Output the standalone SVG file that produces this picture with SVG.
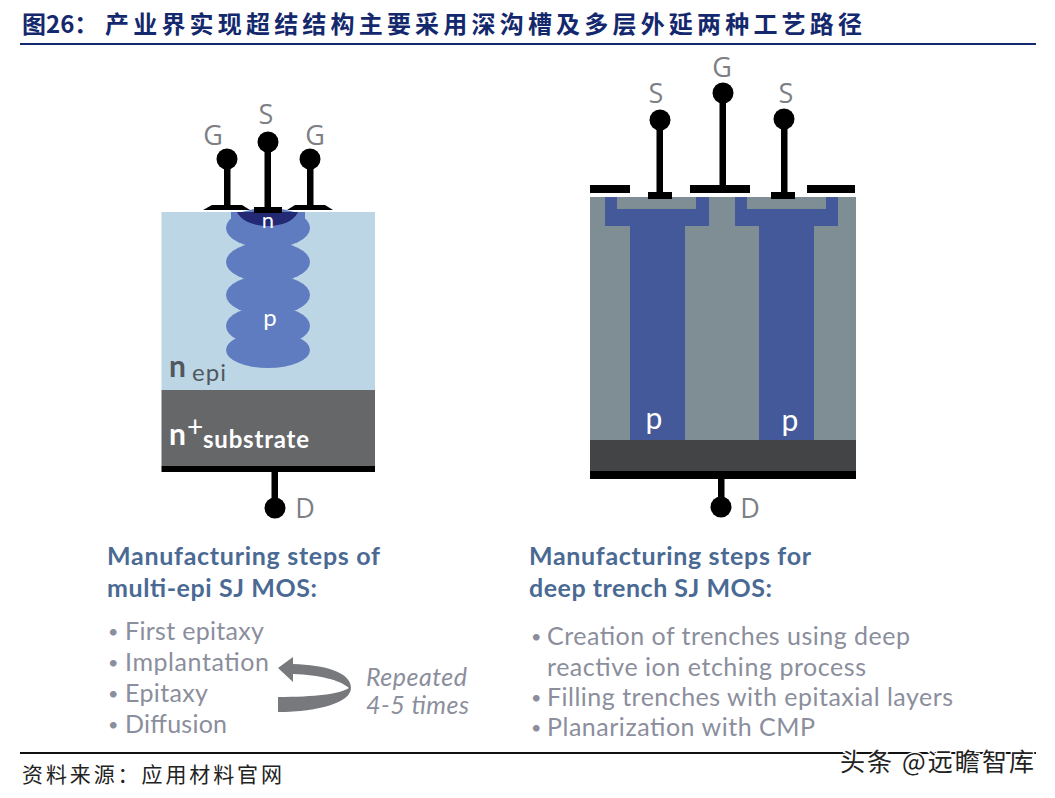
<svg xmlns="http://www.w3.org/2000/svg" width="1055" height="798" viewBox="0 0 1055 798">
<style>
.t{font-family:"Open Sans","Noto Sans",sans-serif;fill:#7d7f84;font-size:27px}
.l{font-family:"Lato","Open Sans",sans-serif;fill:#8b8e9c;font-size:25px}
.b{font-family:"Lato","Open Sans",sans-serif;fill:#8b8e9c;font-size:18px}
.h{font-family:"Lato","Open Sans",sans-serif;fill:#4a6a94;font-size:25px;font-weight:700}
.w{font-family:"Lato","Open Sans",sans-serif;fill:#fff}
.k{fill:#000;stroke:none}
.blue{fill:#43599a}
.gray{fill:#7f8e95}
.lobe{fill:#5f7cc1}
.cjk{font-family:"Noto Sans CJK SC",sans-serif}
</style>
<rect width="1055" height="798" fill="#fff"/>
<g id="title">
<text x="22" y="33" class="cjk" font-weight="700" font-size="24" fill="#14286e">图26：</text>
<text x="105" y="33" class="cjk" font-weight="700" font-size="24" fill="#14286e" textLength="757" lengthAdjust="spacing">产业界实现超结结构主要采用深沟槽及多层外延两种工艺路径</text>
<rect x="20" y="43" width="1016" height="2" fill="#14286e"/>
</g>
<g id="multi-epi-device">
<rect x="161.500" y="212" width="213.500" height="178" fill="#bcd6e5"/>
<g class="lobe">
<ellipse cx="268" cy="228" rx="42" ry="20"/>
<ellipse cx="268" cy="262" rx="42" ry="20"/>
<ellipse cx="268" cy="295" rx="42" ry="20"/>
<ellipse cx="268" cy="326" rx="42" ry="20"/>
<ellipse cx="268" cy="350" rx="42" ry="18"/>
<rect x="231" y="212" width="74" height="16"/>
</g>
<path d="M237 212H298C294 221 282 226 268 226C254 226 241 221 237 212Z" fill="#232a73"/>
<rect x="161.500" y="390" width="213.500" height="76" fill="#666769"/>
<rect x="161.500" y="466" width="213.500" height="6" class="k"/>
<text x="268" y="228" class="w" font-size="22" text-anchor="middle">n</text>
<text x="270" y="326" class="w" font-size="24" text-anchor="middle">p</text>
<text x="169" y="377" font-family="Lato,sans-serif" font-weight="700" font-size="30" fill="#50585e">n</text>
<text x="192" y="381" font-family="Lato,sans-serif" font-weight="400" font-size="24" fill="#50585e" textLength="34">epi</text>
<text x="169" y="445" class="w" font-weight="700" font-size="30">n</text>
<text x="187" y="437" class="w" font-size="28">+</text>
<text x="203" y="448" class="w" font-weight="700" font-size="24" textLength="106">substrate</text>
</g>
<g id="deep-trench-device">
<rect x="590" y="197" width="266" height="243" class="gray"/>
<path class="blue" d="M605 197H617V209H696V197H709V226H685V440H630V226H605Z"/>
<path class="blue" d="M735 197H747V209H826V197H838V226H814V440H759V226H735Z"/>
<rect x="590" y="440" width="266" height="31" fill="#434446"/>
<rect x="590" y="471" width="266" height="8" class="k"/>
<text x="654" y="429" class="w" font-size="30" text-anchor="middle">p</text>
<text x="790" y="431" class="w" font-size="30" text-anchor="middle">p</text>
</g>
<g id="connectors">
<g class="k">
<path d="M203 210L212 205H242L250 210Z"/><rect x="224" y="159" width="6.500" height="47"/><circle cx="227" cy="159" r="10.500"/>
<rect x="254" y="207" width="28" height="6"/><rect x="264.500" y="142" width="6.500" height="66"/><circle cx="268" cy="142" r="10.500"/>
<path d="M287 210L295 205H325L333 210Z"/><rect x="307" y="159" width="6.500" height="47"/><circle cx="310" cy="159" r="10.500"/>
<rect x="271.500" y="470" width="6.500" height="38"/><circle cx="275" cy="508" r="10.500"/>
<rect x="590" y="185" width="40" height="8"/><rect x="690" y="185" width="60" height="8"/><rect x="807" y="185" width="48" height="8"/>
<rect x="648" y="192" width="24" height="7"/><rect x="656.500" y="120" width="6.500" height="73"/><circle cx="660" cy="120" r="10.500"/>
<rect x="719.500" y="93" width="6.500" height="93"/><circle cx="723" cy="93" r="10.500"/>
<rect x="771" y="192" width="24" height="7"/><rect x="781" y="119" width="6.500" height="74"/><circle cx="784" cy="119" r="10.500"/>
<rect x="718" y="478" width="6.500" height="30"/><circle cx="721" cy="507" r="10.500"/>
</g>
<g id="repeat-arrow">
<path d="M278 668L293 657V664C325 665 351 672 351 688C351 702 320 712 278 712V697C315 697 340 694 349 688C340 680 320 675 293 674V682Z" fill="#77797c"/>
</g>
</g>
<g id="terminal-labels">
<text x="213" y="145" class="t" text-anchor="middle">G</text>
<text x="266" y="124" class="t" text-anchor="middle">S</text>
<text x="315" y="145" class="t" text-anchor="middle">G</text>
<text x="305" y="518" class="t" text-anchor="middle">D</text>
<text x="656" y="103" class="t" text-anchor="middle">S</text>
<text x="722" y="77" class="t" text-anchor="middle">G</text>
<text x="786" y="103" class="t" text-anchor="middle">S</text>
<text x="750" y="518" class="t" text-anchor="middle">D</text>
</g>
<g id="multi-epi-steps">
<text x="107" y="565" class="h" textLength="273">Manufacturing steps of</text>
<text x="107" y="597" class="h" textLength="210">multi-epi SJ MOS:</text>
<text x="108" y="638" class="b">•</text><text x="125" y="640" class="l" textLength="139">First epitaxy</text>
<text x="108" y="669" class="b">•</text><text x="125" y="671" class="l" textLength="144">Implantation</text>
<text x="108" y="700" class="b">•</text><text x="125" y="702" class="l" textLength="83">Epitaxy</text>
<text x="108" y="731" class="b">•</text><text x="125" y="733" class="l" textLength="102">Diffusion</text>
<text x="366" y="686" class="l" font-style="italic" textLength="101">Repeated</text>
<text x="366" y="714" class="l" font-style="italic" textLength="103">4-5 times</text>
</g>
<g id="deep-trench-steps">
<text x="529" y="565" class="h" textLength="282">Manufacturing steps for</text>
<text x="529" y="597" class="h" textLength="243">deep trench SJ MOS:</text>
<text x="531" y="643" class="b">•</text><text x="547" y="645" class="l" textLength="363">Creation of trenches using deep</text>
<text x="547" y="676" class="l" textLength="319">reactive ion etching process</text>
<text x="531" y="704" class="b">•</text><text x="547" y="706" class="l" textLength="406">Filling trenches with epitaxial layers</text>
<text x="531" y="734" class="b">•</text><text x="547" y="736" class="l" textLength="268">Planarization with CMP</text>
</g>
<g id="footer">
<rect x="20" y="752" width="1016" height="2" fill="#111"/>
<text x="22" y="782" class="cjk" font-size="21" fill="#222" textLength="260" lengthAdjust="spacing">资料来源：应用材料官网</text>
<text x="840" y="771" class="cjk" font-size="25" fill="#222" stroke="#fff" stroke-width="2.500" paint-order="stroke" textLength="194" lengthAdjust="spacing">头条 @远瞻智库</text>
</g>
</svg>
